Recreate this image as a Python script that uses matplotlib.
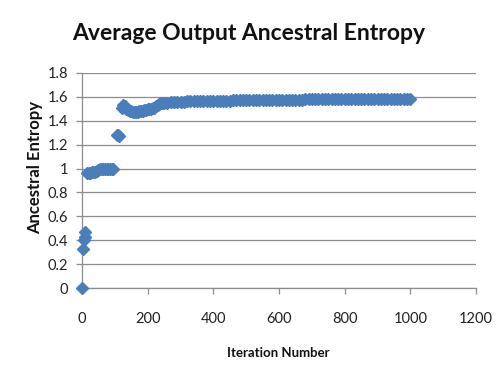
import matplotlib
matplotlib.use("Agg")
import matplotlib.pyplot as plt

# Data
iter_early = [0, 3, 6, 8, 10,
              15, 20, 25, 30, 35, 40, 45, 50, 55, 60, 65, 70, 75, 80, 85, 90, 95,
              106, 110, 114,
              122, 126, 130, 135, 140, 145, 150, 155, 160, 165, 170, 175, 180, 185, 190,
              195, 200, 205, 210, 215, 220, 225, 230, 235, 240, 245]
entropy_early = [0.0, 0.33, 0.40, 0.43, 0.47,
                 0.96, 0.96, 0.96, 0.97, 0.97, 0.97, 0.98, 0.99, 1.0, 1.0, 1.0, 1.0, 1.0, 1.0, 1.0, 1.0, 1.0,
                 1.28, 1.28, 1.27,
                 1.51, 1.53, 1.52, 1.50, 1.49, 1.48, 1.48, 1.47, 1.47, 1.47, 1.47, 1.48, 1.48, 1.48, 1.49,
                 1.49, 1.50, 1.50, 1.50, 1.51, 1.51, 1.52, 1.53, 1.54, 1.55, 1.55]

iter_late = [250, 260, 270, 280, 290, 300, 310, 320, 330, 340, 350, 360, 370, 380, 390,
             400, 410, 420, 430, 440, 450, 460, 470, 480, 490, 500, 510, 520, 530, 540,
             550, 560, 570, 580, 590, 600, 610, 620, 630, 640, 650, 660, 670, 680, 690,
             700, 710, 720, 730, 740, 750, 760, 770, 780, 790, 800, 810, 820, 830, 840,
             850, 860, 870, 880, 890, 900, 910, 920, 930, 940, 950, 960, 970, 980, 990, 1000]
entropy_late = [1.550, 1.552, 1.554, 1.556, 1.558, 1.560, 1.561, 1.562, 1.563, 1.563, 1.564, 1.565, 1.565, 1.566, 1.566,
                1.567, 1.567, 1.568, 1.568, 1.569, 1.569, 1.570, 1.570, 1.571, 1.571, 1.572, 1.572, 1.573, 1.573, 1.574,
                1.574, 1.575, 1.575, 1.575, 1.576, 1.576, 1.577, 1.577, 1.577, 1.578, 1.578, 1.578, 1.578, 1.579, 1.579,
                1.579, 1.580, 1.580, 1.580, 1.580, 1.580, 1.581, 1.581, 1.581, 1.581, 1.581, 1.581, 1.582, 1.582, 1.582,
                1.582, 1.582, 1.582, 1.582, 1.582, 1.583, 1.583, 1.583, 1.583, 1.583, 1.583, 1.583, 1.583, 1.583, 1.583, 1.583]

iterations = iter_early + iter_late
entropy = entropy_early + entropy_late

x_ticks = [0, 200, 400, 600, 800, 1000, 1200]
y_ticks = [0, 0.2, 0.4, 0.6, 0.8, 1, 1.2, 1.4, 1.6, 1.8]
y_tick_labels = ["0", "0.2", "0.4", "0.6", "0.8", "1", "1.2", "1.4", "1.6", "1.8"]

plt.rcParams['font.family'] = ['Lato', 'DejaVu Sans']

fig = plt.figure(figsize=(4.97, 3.81), dpi=100)
ax = fig.add_axes([82/497, 1 - 288/381, (476 - 82)/497, (288 - 73)/381])

ax.plot(iterations, entropy, linestyle='none', marker='D', markersize=6.3,
        color='#4a7ebb', markeredgecolor='#4a7ebb', zorder=3, clip_on=False)

ax.set_xlim(0, 1200)
ax.set_ylim(0, 1.8)
ax.set_xticks(x_ticks)
ax.set_yticks(y_ticks)
ax.set_yticklabels(y_tick_labels)
ax.yaxis.grid(True, color='#8c8c8c', linewidth=0.9)
ax.set_axisbelow(True)

for s in ['top', 'right']:
    ax.spines[s].set_visible(False)
for s in ['left', 'bottom']:
    ax.spines[s].set_color('#8c8c8c')
    ax.spines[s].set_linewidth(0.9)

ax.tick_params(axis='both', colors='#8c8c8c', labelcolor='#222222', labelsize=10.5,
               length=4, width=0.9, direction='out')
ax.tick_params(axis='x', pad=13)
ax.tick_params(axis='y', pad=6)

fig.text(0.5, 1 - 34/381, "Average Output Ancestral Entropy", ha='center', va='center',
         fontsize=16.5, fontweight='bold', color='#111111')
fig.text(35/497, 1 - 168/381, "Ancestral Entropy", ha='center', va='center', rotation=90,
         fontsize=12, fontweight='bold', color='#111111')
fig.text(278/497, 1 - 353/381, "Iteration Number", ha='center', va='center',
         fontsize=9.5, fontweight='bold', color='#111111')

fig.savefig("out.png", dpi=100)
